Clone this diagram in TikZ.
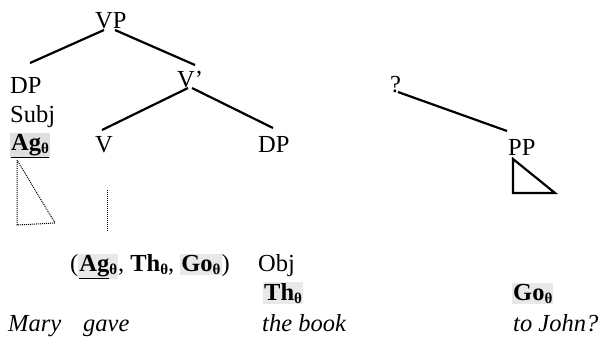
\documentclass[tikz,border=0pt]{standalone}
\usepackage{fontspec}
\setmainfont{Liberation Serif}
\usetikzlibrary{calc}
\newcommand{\thsub}{\raisebox{-3pt}{\fontsize{15}{15}\selectfont\bfseries θ}}
\newcommand{\shade}[1]{{\setlength{\fboxsep}{1pt}\colorbox{gray!18}{#1}}}
\begin{document}
\begin{tikzpicture}[x=1pt,y=-1pt,
  lab/.style={inner sep=0pt, anchor=base west, font=\fontsize{24.5}{28}\selectfont},
  br/.style={line width=2.2pt},
  dots/.style={densely dotted, line width=1pt}]
\useasboundingbox (0,0) rectangle (610,341);
% tree labels
\node[lab] (VP) at (95,28) {VP};
\node[lab] (DPs) at (10,93) {DP};
\node[lab] (Vbar) at (177,87) {V'};
\node[lab] (subj) at (10,122) {Subj};
\node[lab, fill=gray!25, inner sep=1pt] (ag) at (10,150) {\underline{\textbf{Ag}\thsub}};
\node[lab] (V) at (95,152) {V};
\node[lab] (DPo) at (258,152) {DP};
\node[lab] (q) at (390,92) {?};
\node[lab] (PP) at (508,155) {PP};
% lower text
\node[lab] (args) at (70,271) {(\shade{\underline{\textbf{Ag}}\thsub}, \textbf{Th}\thsub, \shade{\textbf{Go}\thsub})};
\node[lab] (obj) at (258,271) {Obj};
\node[lab] (thobj) at (263,300) {\shade{\textbf{Th}\thsub}};
\node[lab] (gopp) at (512,300) {\shade{\textbf{Go}\thsub}};
\node[lab] (mary) at (8,331) {\textit{Mary}};
\node[lab] (gave) at (83,331) {\textit{gave}};
\node[lab] (book) at (262,331) {\textit{the book}};
\node[lab] (john) at (513,331) {\textit{to John?}};
% branches
\draw[br] ($(VP.base west)+(9pt,-2pt)$) -- ($(DPs.base west)+(20pt,30pt)$);
\draw[br] ($(VP.base west)+(20pt,-2pt)$) -- ($(Vbar.base west)+(18pt,22pt)$);
\draw[br] ($(Vbar.base west)+(11pt,-1pt)$) -- ($(V.base west)+(7pt,22pt)$);
\draw[br] ($(Vbar.base west)+(15pt,-1pt)$) -- ($(DPo.base west)+(15pt,24pt)$);
\draw[br] ($(q.base west)+(8pt,0pt)$) -- ($(PP.base west)+(-1pt,24pt)$);
% triangles
\draw[br, line join=miter] ($(PP.base west)+(5pt,-4pt)$) -- ++(0,34) -- ++(42,0) -- cycle;
\draw[dots] ($(ag.base west)+(7pt,-10pt)$) -- ++(0,65) -- ++(38,-2) -- cycle;
% dotted line below V
\draw[dots] ($(V.base west)+(12pt,-38pt)$) -- ($(V.base west)+(12pt,-80pt)$);
\end{tikzpicture}
\end{document}
